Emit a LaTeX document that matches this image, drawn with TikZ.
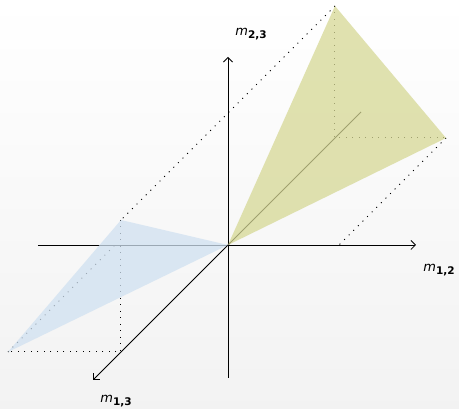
\documentclass[tikz,border=0pt]{standalone}
\usepackage{fontspec}
\setmainfont{DejaVu Sans}
\usetikzlibrary{arrows.meta}
\definecolor{planeyel}{RGB}{214,216,149}
\definecolor{planeblu}{RGB}{208,225,241}
\newcommand{\mlab}[1]{\textit{m}\raisebox{-3pt}{\fontsize{10.5}{12}\selectfont\bfseries #1}}
\begin{document}
\begin{tikzpicture}[x=1pt,y=1pt,
  axis/.style={line width=0.8pt,-{Straight Barb[length=4.5pt,width=9pt]}},
  guide/.style={line width=1pt,dash pattern=on 1pt off 5.5pt},
  lbl/.style={font=\fontsize{13}{15}\selectfont,inner sep=0pt}]
\shade[top color=white,bottom color=black!5] (-228,-164) rectangle (231,245);
\useasboundingbox (-228,-164) rectangle (231,245);
% points
\coordinate (o) at (0,0);
\coordinate (xl) at (-190,0);
\coordinate (xr) at (188,0);
\coordinate (yb) at (0,-133);
\coordinate (yt) at (0,188);
\coordinate (zb) at (133,133);
\coordinate (zf) at (-135,-135);
\coordinate (ya) at (107,239);
\coordinate (yc) at (107,107);
\coordinate (yr) at (218,107);
\coordinate (yx) at (111,0);
\coordinate (bt) at (-107,25);
\coordinate (bc) at (-107,-107);
\coordinate (bl) at (-220,-107);
\coordinate (bx) at (-113,0);
% axes
\draw[axis] (xl) -- (xr);
\draw[axis] (yb) -- (yt);
\draw[axis] (zb) -- (zf);
% guides
\draw[guide] (ya) -- (bt);
\draw[guide] (yr) -- (yx);
\draw[guide] (bl) -- (bx);
\draw[guide] (ya) -- (yc) -- (yr);
\draw[guide] (bt) -- (bc) -- (bl);
% planes
\fill[planeyel,opacity=0.75] (o) -- (ya) -- (yr) -- cycle;
\fill[planeblu,opacity=0.75] (o) -- (bt) -- (bl) -- cycle;
% labels
\node[lbl] (l12) at (211,-25) {\mlab{1,2}};
\node[lbl] (l23) at (23,211) {\mlab{2,3}};
\node[lbl] (l13) at (-112,-156) {\mlab{1,3}};
\end{tikzpicture}
\end{document}
